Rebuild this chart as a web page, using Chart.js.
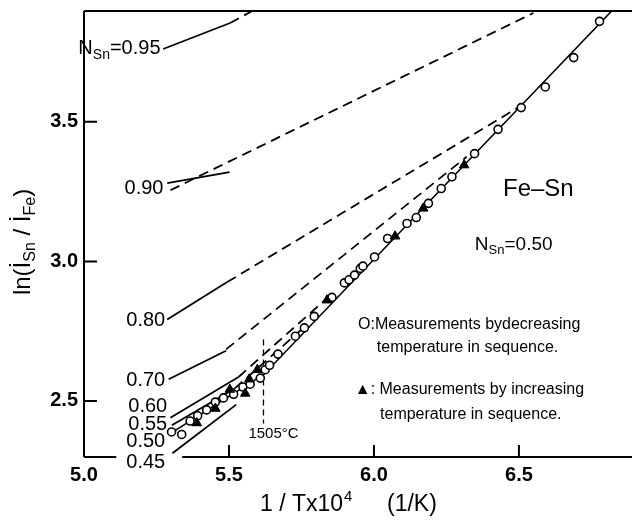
<!DOCTYPE html>
<html><head><meta charset="utf-8">
<script src="https://cdn.jsdelivr.net/npm/chart.js@4.4.1/dist/chart.umd.min.js"></script>
<style>html,body{margin:0;padding:0;background:#fff;}</style>
</head><body>
<canvas id="c" width="632" height="521"></canvas>
<script>
// ---- data ----
const xTicks = [5.0, 5.5, 6.0, 6.5];
const yTicks = [2.5, 3.0, 3.5];

// open circles: measurements by decreasing temperature (N_Sn = 0.50)
const circlesX = [5.302,5.337,5.366,5.392,5.423,5.453,5.481,5.516,5.548,5.573,5.608,5.625,5.640,5.669,5.729,5.760,5.794,5.855,5.898,5.914,5.933,5.953,5.962,6.002,6.047,6.114,6.146,6.188,6.232,6.269,6.347,6.428,6.508,6.591,6.689,6.778];
const circlesY = [2.389,2.380,2.428,2.447,2.468,2.496,2.511,2.524,2.550,2.560,2.582,2.612,2.628,2.668,2.732,2.762,2.803,2.871,2.923,2.934,2.951,2.975,2.983,3.016,3.082,3.136,3.157,3.208,3.261,3.303,3.386,3.473,3.551,3.625,3.730,3.860];

// filled triangles: measurements by increasing temperature
const trianglesX = [5.389,5.453,5.503,5.556,5.570,5.598,5.838,6.073,6.170,6.311];
const trianglesY = [2.421,2.473,2.541,2.527,2.578,2.612,2.861,3.090,3.190,3.345];

// line through the measured points
const fitLine = [[5.30,2.385],[5.62,2.595],[6.82,3.897]];

// N_Sn iso-composition lines (solid part, dashed extension)
const line95Solid = [[5.273,3.761],[5.504,3.854]];
const line95Dash  = [[5.504,3.854],[5.580,3.897]];
const line90Solid = [[5.287,3.280],[5.502,3.320]];
const line90Dash  = [[5.298,3.255],[6.550,3.890]];
const line80Solid = [[5.287,2.792],[5.494,2.926]];
const line80Dash  = [[5.494,2.926],[6.502,3.554]];
const line70Solid = [[5.292,2.578],[5.490,2.680]];
const line70Dash  = [[5.490,2.685],[6.320,3.375]];
const line60Solid = [[5.298,2.440],[5.533,2.586]];
const line60Dash  = [[5.533,2.586],[5.840,2.870]];
const line55Solid = [[5.303,2.413],[5.520,2.545]];
const line55Dash  = [[5.520,2.545],[5.760,2.765]];
const line45Solid = [[5.305,2.313],[5.525,2.487]];
const line1505 = [[5.619,2.720],[5.619,2.419]];

// labels: [text, x, y (centre)]
const lineLabels = [
  ['0.90', 5.274, 3.266], ['0.80', 5.280, 2.795], ['0.70', 5.280, 2.581],
  ['0.60', 5.287, 2.485], ['0.55', 5.287, 2.420], ['0.50', 5.280, 2.359],
  ['0.45', 5.280, 2.287]
];
const label95 = [5.264, 3.768];
const legendLines = [
  ['O:Measurements bydecreasing', 5.945, 2.778],
  ['temperature in sequence.', 6.010, 2.696],
  ['\u25B2: Measurements by increasing', 5.934, 2.546],
  ['temperature in sequence.', 6.021, 2.456]
];
const tempLabel = ['1505\u00B0C', 5.567, 2.388];
const titleFeSn = ['Fe\u2013Sn', 6.445, 3.266];
const compLabel = [6.348, 3.065];

const FF = 'Liberation Sans, Arial, sans-serif';
const pts = a => a.map(p => ({x: p[0], y: p[1]}));
const zip = (xs, ys) => xs.map((x, i) => ({x, y: ys[i]}));

function lineDs(arr, dashed, order, w) {
  return {type:'scatter', data: pts(arr), showLine:true, borderColor:'#000', borderWidth: w || 1.8,
    borderDash: dashed ? [10,6] : [], pointRadius:0, order: order || 5, fill:false};
}

function rich(ctx, segs, x, yc, align, main) {
  let total = 0;
  segs.forEach(s => { ctx.font = (s.w||'normal') + ' ' + s.s + 'px ' + FF; s.width = ctx.measureText(s.t).width; total += s.width; });
  let cx = align === 'right' ? x - total : (align === 'center' ? x - total/2 : x);
  const base = yc + 0.358 * main;
  ctx.textBaseline = 'alphabetic'; ctx.textAlign = 'left';
  segs.forEach(s => { ctx.font = (s.w||'normal') + ' ' + s.s + 'px ' + FF; ctx.fillText(s.t, cx, base + (s.dy||0)); cx += s.width; });
  return {left: align === 'right' ? x - total : x, right: align === 'right' ? x : x + total};
}

const deco = {
  id: 'deco',
  afterDraw(chart) {
    const ctx = chart.ctx, xs = chart.scales.x, ys = chart.scales.y, a = chart.chartArea;
    ctx.save();
    ctx.fillStyle = '#000'; ctx.strokeStyle = '#000';
    let gap = null;
    lineLabels.forEach(l => {
      const r = rich(ctx, [{t:l[0], s:20}], xs.getPixelForValue(l[1]), ys.getPixelForValue(l[2]), 'right', 20);
      if (l[0] === '0.45') gap = [r.left - 10, r.right + 17];
    });
    rich(ctx, [{t:'N', s:20}, {t:'Sn', s:14, dy:5}, {t:'=0.95', s:20}], xs.getPixelForValue(label95[0]), ys.getPixelForValue(label95[1]), 'right', 20);
    rich(ctx, [{t:'N', s:19}, {t:'Sn', s:13, dy:4}, {t:'=0.50', s:19}], xs.getPixelForValue(compLabel[0]), ys.getPixelForValue(compLabel[1]), 'left', 19);
    rich(ctx, [{t:titleFeSn[0], s:24}], xs.getPixelForValue(titleFeSn[1]), ys.getPixelForValue(titleFeSn[2]), 'left', 24);
    legendLines.forEach(l => rich(ctx, [{t:l[0], s:16}], xs.getPixelForValue(l[1]), ys.getPixelForValue(l[2]), 'left', 16));
    rich(ctx, [{t:tempLabel[0], s:15}], xs.getPixelForValue(tempLabel[1]), ys.getPixelForValue(tempLabel[2]), 'left', 15);

    // frame
    ctx.lineWidth = 2; ctx.setLineDash([]);
    ctx.beginPath();
    ctx.moveTo(a.left, a.top); ctx.lineTo(a.right, a.top);
    ctx.moveTo(a.left, a.top); ctx.lineTo(a.left, a.bottom);
    ctx.moveTo(a.left, a.bottom);
    if (gap) { ctx.lineTo(gap[0], a.bottom); ctx.moveTo(gap[1], a.bottom); }
    ctx.lineTo(a.right, a.bottom);
    ctx.stroke();
    // inward ticks
    ctx.beginPath();
    xTicks.forEach(v => { if (v > xs.min) { const p = xs.getPixelForValue(v); ctx.moveTo(p, a.bottom); ctx.lineTo(p, a.bottom - 12); } });
    yTicks.forEach(v => { const p = ys.getPixelForValue(v); ctx.moveTo(a.left, p); ctx.lineTo(a.left + 13, p); });
    ctx.stroke();

    // x title
    const xb = 503 + 0.358 * 23;
    ctx.font = 'normal 23px ' + FF; ctx.textAlign = 'left'; ctx.textBaseline = 'alphabetic';
    ctx.fillText('1 / Tx10', 260, xb);
    const w1 = ctx.measureText('1 / Tx10').width;
    ctx.font = 'normal 15px ' + FF;
    ctx.fillText('4', 260 + w1 + 1, xb - 10);
    ctx.font = 'normal 23px ' + FF;
    ctx.fillText('(1/K)', 387, xb);

    // y title (rotated)
    ctx.translate(21, 242); ctx.rotate(-Math.PI/2);
    rich(ctx, [{t:'ln(\u0130', s:24}, {t:'Sn', s:16, dy:5}, {t:' / \u0130', s:24}, {t:'Fe', s:16, dy:5}, {t:')', s:24}], 0, 0, 'center', 24);
    ctx.restore();
  }
};

new Chart(document.getElementById('c'), {
  type: 'scatter',
  data: { datasets: [
    {data: zip(trianglesX, trianglesY), pointStyle:'triangle', pointRadius:5.5, backgroundColor:'#000', borderColor:'#000', borderWidth:1, order:0},
    {data: zip(circlesX, circlesY), pointStyle:'circle', pointRadius:4, backgroundColor:'#fff', borderColor:'#000', borderWidth:1.6, order:1},
    lineDs(fitLine, false, 2, 1.6),
    lineDs(line95Solid, false), lineDs(line95Dash, true),
    lineDs(line90Solid, false), lineDs(line90Dash, true),
    lineDs(line80Solid, false), lineDs(line80Dash, true),
    lineDs(line70Solid, false), lineDs(line70Dash, true),
    lineDs(line60Solid, false), lineDs(line60Dash, true),
    lineDs(line55Solid, false), lineDs(line55Dash, true),
    lineDs(line45Solid, false),
    Object.assign(lineDs(line1505, true, 6, 1.3), {borderDash:[6,4]})
  ]},
  options: {
    responsive:false, animation:false, devicePixelRatio:1,
    layout:{autoPadding:false, padding:{top:11, right:0, left:0, bottom:0}},
    plugins:{legend:{display:false}, tooltip:{enabled:false}},
    scales:{
      x:{type:'linear', min:5.0, max:6.89,
        afterBuildTicks: s => { s.ticks = xTicks.map(v => ({value:v})); },
        afterFit: s => { s.height = 64; s.paddingLeft = 0; s.paddingRight = 0; },
        ticks:{font:{family:FF, size:20, weight:'bold'}, color:'#000', padding:6, maxRotation:0, autoSkip:false, callback: v => Number(v).toFixed(1)},
        grid:{display:false, drawTicks:false}, border:{display:false}},
      y:{type:'linear', min:2.2993, max:3.897,
        afterBuildTicks: s => { s.ticks = yTicks.map(v => ({value:v})); },
        afterFit: s => { s.width = 84; s.paddingTop = 0; s.paddingBottom = 0; },
        ticks:{font:{family:FF, size:20, weight:'bold'}, color:'#000', padding:6, autoSkip:false, callback: v => Number(v).toFixed(1)},
        grid:{display:false, drawTicks:false}, border:{display:false}}
    }
  },
  plugins:[deco]
});
</script>
</body></html>
